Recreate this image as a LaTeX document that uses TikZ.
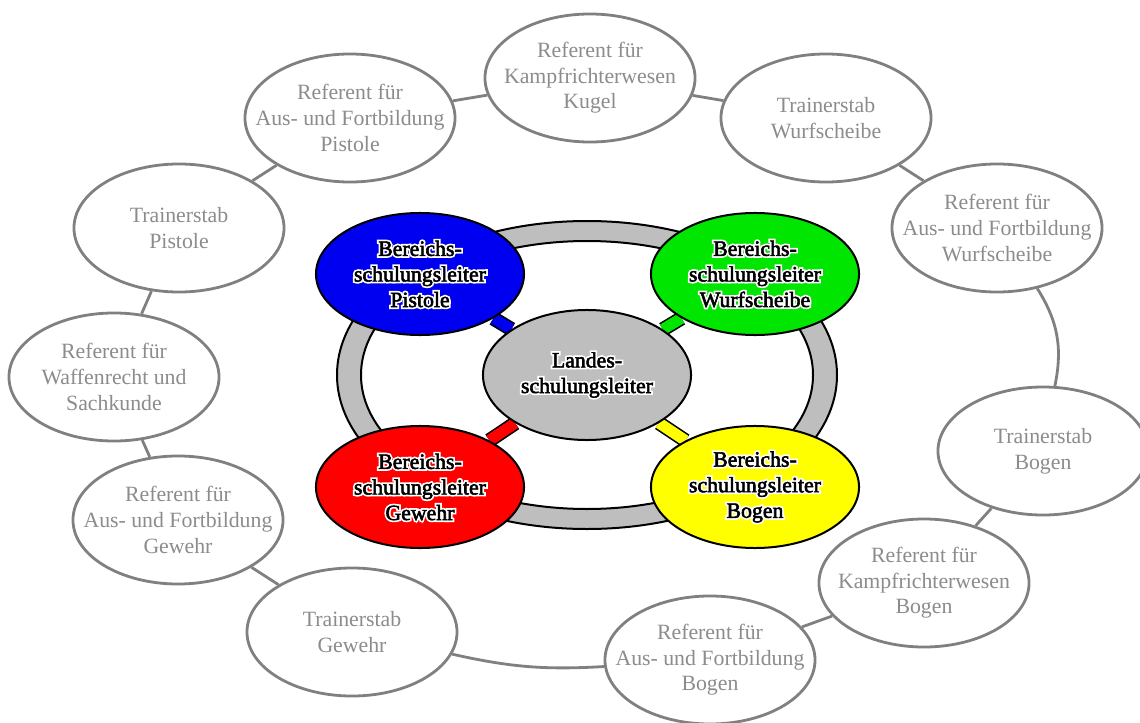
\documentclass[tikz,border=0pt]{standalone}
\usepackage{fontspec}
\setmainfont{Liberation Serif}
\newfontfamily\halofont[FakeBold=18]{Liberation Serif}
\newfontfamily\leitfont[FakeBold=2.5]{Liberation Serif}
\usetikzlibrary{shapes.geometric,backgrounds}
\definecolor{refline}{HTML}{808080}
\definecolor{reftext}{HTML}{8C8C8C}
\definecolor{ringgray}{HTML}{BEBEBE}
\definecolor{bsblue}{HTML}{0000F0}
\definecolor{bsgreen}{HTML}{00E600}
\definecolor{bsred}{HTML}{FF0000}
\definecolor{bsyellow}{HTML}{FFFF00}
% black text with a white halo
\newcommand{\wt}[1]{\leavevmode\rlap{\textcolor{white}{\halofont #1}}{\leitfont #1}}
\begin{document}
\begin{tikzpicture}[x=0.025cm,y=-0.025cm,
  every node/.style={font=\fontsize{15.5}{18.2}\selectfont,align=center},
  refbox/.style={ellipse,draw=refline,line width=0.07cm,fill=white,text=reftext,
    minimum width=5.25cm,minimum height=3.2cm,inner sep=-1cm},
  leitbox/.style={ellipse,draw=black,line width=0.05cm,
    minimum width=5.2cm,minimum height=3.05cm,inner sep=-1cm},
  link/.style={draw=refline,line width=0.07cm},
  spoke/.style={draw=black,line width=0.04cm,double distance=0.28cm}]
  \useasboundingbox (0,0) rectangle (1140,723);

  % outer ring of referents
  \node[refbox] (kugel)    at (590,78)  {Referent für\\Kampfrichterwesen\\Kugel};
  \node[refbox] (twurf)    at (826,118) {Trainerstab\\Wurfscheibe};
  \node[refbox] (awurf)    at (997,228) {Referent für\\Aus- und Fortbildung\\Wurfscheibe};
  \node[refbox] (tbogen)   at (1043,451) {Trainerstab\\Bogen};
  \node[refbox] (kbogen)   at (924,583) {Referent für\\Kampfrichterwesen\\Bogen};
  \node[refbox] (abogen)   at (710,660) {Referent für\\Aus- und Fortbildung\\Bogen};
  \node[refbox] (tgewehr)  at (352,632) {Trainerstab\\Gewehr};
  \node[refbox] (agewehr)  at (178,520) {Referent für\\Aus- und Fortbildung\\Gewehr};
  \node[refbox] (waffen)   at (114,377) {Referent für\\Waffenrecht und\\Sachkunde};
  \node[refbox] (tpistole) at (179,228) {Trainerstab\\Pistole};
  \node[refbox] (apistole) at (350,118) {Referent für\\Aus- und Fortbildung\\Pistole};

  \foreach \a/\b/\bnd in {kugel/twurf/0,twurf/awurf/0,awurf/tbogen/22,tbogen/kbogen/0,
      kbogen/abogen/0,abogen/tgewehr/8,tgewehr/agewehr/0,agewehr/waffen/0,
      waffen/tpistole/0,tpistole/apistole/0,apistole/kugel/0}
    \draw[link] (\a) to[bend left=\bnd] (\b);

  % inner circle
  \node[leitbox,fill=ringgray,minimum height=3.25cm] (lsl) at (587,375)
    {\wt{Landes-}\\\wt{schulungsleiter}};
  \node[leitbox,fill=bsblue]   (bpistole) at (420,274) {\wt{Bereichs-}\\\wt{schulungsleiter}\\\wt{Pistole}};
  \node[leitbox,fill=bsgreen]  (bwurf)    at (755,274) {\wt{Bereichs-}\\\wt{schulungsleiter}\\\wt{Wurfscheibe}};
  \node[leitbox,fill=bsred]    (bgewehr)  at (420,487) {\wt{Bereichs-}\\\wt{schulungsleiter}\\\wt{Gewehr}};
  \node[leitbox,fill=bsyellow] (bbogen)   at (755,487) {\wt{Bereichs-}\\\wt{schulungsleiter}\\\wt{Bogen}};

  \begin{scope}[on background layer]
    \filldraw[fill=ringgray,draw=black,line width=0.05cm,even odd rule]
      (lsl.center) ellipse [x radius=250,y radius=154]
      (lsl.center) ellipse [x radius=226,y radius=134];
    \draw[spoke,double=bsblue]   (lsl) -- (bpistole);
    \draw[spoke,double=bsgreen]  (lsl) -- (bwurf);
    \draw[spoke,double=bsred]    (lsl) -- (bgewehr);
    \draw[spoke,double=bsyellow] (lsl) -- (bbogen);
  \end{scope}
\end{tikzpicture}
\end{document}
